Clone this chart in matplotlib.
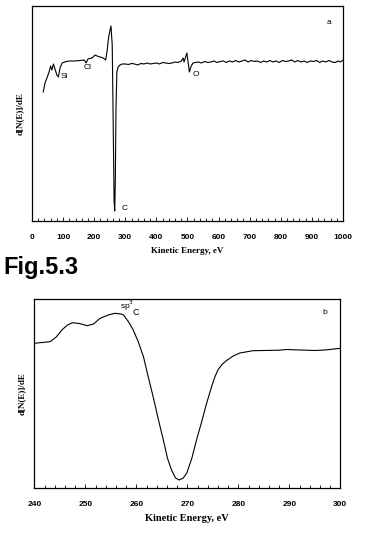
import matplotlib
matplotlib.use("Agg")
import matplotlib.pyplot as plt
from matplotlib.ticker import MultipleLocator

# ---- Panel a: survey spectrum ----
a_energy = [36, 42, 48, 55, 60, 64, 69, 74, 80, 85, 90, 97, 110, 122, 138, 155, 168, 174, 180,
            193, 203, 209, 219, 229, 237, 242, 246, 251, 254, 258, 261, 264, 266, 268, 270, 273,
            277, 283, 290, 300, 310, 320, 330, 340, 350, 360, 370, 380, 390, 400, 410, 420, 430,
            440, 450, 460, 470, 480, 486, 489, 498, 502, 506, 512, 518, 525, 535, 545, 555, 565,
            575, 585, 595, 605, 615, 625, 635, 645, 655, 665, 675, 685, 695, 705, 715, 725, 735,
            745, 755, 765, 775, 785, 795, 805, 815, 825, 835, 845, 855, 865, 875, 885, 895, 905,
            915, 925, 935, 945, 955, 965, 975, 985, 992, 1000]
a_signal = [129, 138, 143, 149, 155, 151, 157, 152, 146, 144, 153, 158, 159.5, 160, 160, 160.5, 161, 158, 162,
            163, 166, 165, 164, 163, 161, 171, 183, 191, 195, 176, 101, 21, 10, 41, 111, 149,
            154, 156, 157, 157, 156.5, 157.5, 157, 156, 157.5, 157, 158, 157, 157.5, 158, 157, 158.5, 158,
            157.5, 158, 159, 158.5, 160, 163, 159, 168, 159, 149, 155, 158, 158.5, 159, 158, 159.5, 158.5,
            159, 160, 158.5, 159.5, 160, 158.5, 160, 159, 160.5, 159, 160, 161, 159, 160.5, 159.5, 160, 158.5,
            160, 159, 160.5, 159, 160, 158.5, 160.5, 159.5, 160, 161, 159, 160.5, 159, 160, 158.5, 160, 159.5,
            160.5, 158.5, 160, 159, 160.5, 159, 158.5, 160, 159, 161]
a_labels = ["Si", "Cl", "O", "C", "a"]
a_label_x = [93, 180, 518, 287, 956]
a_label_y = [144, 153, 146, 13, 198]
a_ticks = [0, 100, 200, 300, 400, 500, 600, 700, 800, 900, 1000]

# ---- Panel b: C KVV detail ----
b_energy = [240.0, 241.5, 243.1, 244.3, 245.4, 246.5, 247.5, 248.8, 250.4, 251.6, 252.9, 254.5,
            255.8, 257.0, 257.5, 258.5, 259.4, 260.4, 261.4, 262.3, 263.3, 264.3, 265.3, 266.1,
            266.9, 267.7, 268.4, 269.2, 269.9, 270.9, 271.8, 272.8, 273.8, 274.8, 275.4, 276.0,
            276.8, 277.7, 279.0, 280.3, 282.9, 285.0, 288.0, 289.5, 292.1, 295.0, 297.0, 300.0]
b_signal = [144.7, 145.5, 146.3, 151, 158, 163, 165.3, 164.5, 162.3, 164, 169.7, 173,
            174.7, 174, 173, 166, 158, 146, 131.3, 112, 91.3, 69, 48, 30,
            18, 10, 8, 10, 15, 30, 48, 66, 85, 102, 111, 118,
            123.5, 127.5, 132, 135, 137.3, 137.5, 137.8, 138.5, 138, 137.5, 138, 139.7]
b_ticks = [240, 250, 260, 270, 280, 290, 300]

plt.rcParams['font.family'] = ['Liberation Sans', 'DejaVu Sans']

fig = plt.figure(figsize=(3.75, 5.34), dpi=100)
serif = {'family': 'Liberation Serif', 'weight': 'bold'}

def style(ax, ticks, minor):
    ax.set_yticks([])
    ax.set_xticks(ticks)
    ax.xaxis.set_minor_locator(MultipleLocator(minor))
    ax.tick_params(axis='x', which='major', direction='in', length=3, width=0.6, pad=9,
                   labelsize=6)
    ax.tick_params(axis='x', which='minor', direction='in', length=2, width=0.6)
    for lab in ax.get_xticklabels():
        lab.set_fontweight('bold')
    for s in ax.spines.values():
        s.set_linewidth(0.9)

ax1 = fig.add_axes([0.0853, 0.5861, 0.8293, 0.4027])
ax1.plot(a_energy, a_signal, color='black', lw=0.8)
ax1.set_xlim(0, 1000)
ax1.set_ylim(0, 215)
style(ax1, a_ticks, 20)
for t, x, y in zip(a_labels, a_label_x, a_label_y):
    ax1.text(x, y, t, fontsize=6, ha='left' if t in ("Si", "C", "O") else 'center', va='center')
ax1.set_xlabel("Kinetic Energy, eV", fontdict=serif, fontsize=6.5, labelpad=5)
ax1.set_ylabel("d[N(E)]/dE", fontdict=serif, fontsize=6.5, labelpad=6)

fig.text(0.008, 0.487, "Fig.5.3", fontsize=17, fontweight='bold', ha='left', va='baseline')

ax2 = fig.add_axes([0.0915, 0.0861, 0.816, 0.354])
ax2.plot(b_energy, b_signal, color='black', lw=0.8)
ax2.set_xlim(240, 300)
ax2.set_ylim(0, 189)
style(ax2, b_ticks, 2)
ax2.text(256.8, 182, "sp$^3$", fontsize=6, ha='left', va='center')
ax2.text(259.3, 175, "C", fontsize=6.5, ha='left', va='center')
ax2.text(297, 175, "b", fontsize=6, ha='center', va='center')
ax2.set_xlabel("Kinetic Energy, eV", fontdict=serif, fontsize=7.5, labelpad=5)
ax2.set_ylabel("d[N(E)]/dE", fontdict=serif, fontsize=6.5, labelpad=6)

fig.savefig("out.png", dpi=100)
